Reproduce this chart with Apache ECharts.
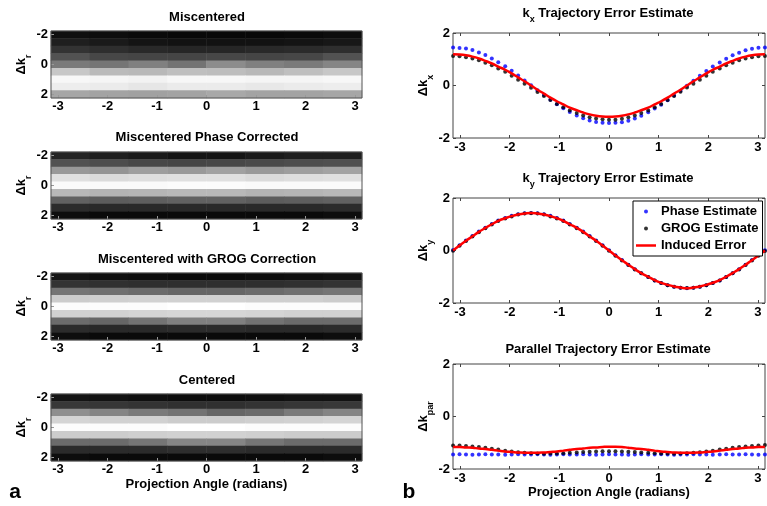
<!DOCTYPE html>
<html>
<head>
<meta charset="utf-8">
<script src="https://cdn.jsdelivr.net/npm/echarts@6/dist/echarts.min.js"></script>
<style>
html, body { margin: 0; padding: 0; background: #fff; }
#chart { width: 767px; height: 506px; }
</style>
</head>
<body>
<div id="chart"></div>
<script>
// ---- data ----
var xTicks = [-3, -2, -1, 0, 1, 2, 3];
var rowTicks = [-2, 0, 2];

// heatmap bins (8 angle bins) and rows (delta k_r, top = -2)
var angleBins = ['b1', 'b2', 'b3', 'b4', 'b5', 'b6', 'b7', 'b8'];
var krRows = ['-2', '-1.5', '-1', '-0.5', '0', '0.5', '1', '1.5', '2'];

// intensity 0 = black, 100 = white
var miscentered = [
  [6, 5, 4, 3, 3, 3, 4, 5],
  [12, 10, 8, 7, 7, 7, 8, 9],
  [20, 18, 16, 15, 15, 16, 17, 18],
  [32, 28, 27, 27, 28, 27, 28, 32],
  [48, 46, 50, 45, 55, 50, 48, 52],
  [78, 73, 72, 75, 74, 72, 75, 78],
  [97, 96, 95, 97, 97, 96, 96, 97],
  [93, 92, 90, 92, 92, 91, 92, 93],
  [65, 64, 63, 64, 66, 64, 64, 65]
];
var phaseCorrected = [
  [14, 12, 10, 8, 8, 10, 12, 12],
  [32, 30, 28, 27, 28, 29, 30, 31],
  [60, 58, 62, 60, 63, 60, 62, 64],
  [88, 86, 87, 88, 88, 86, 87, 88],
  [98, 98, 98, 99, 99, 98, 98, 98],
  [72, 70, 71, 72, 72, 70, 71, 72],
  [38, 36, 37, 38, 38, 36, 37, 38],
  [17, 16, 16, 16, 16, 16, 16, 17],
  [5, 4, 4, 4, 4, 4, 4, 5]
];
var grogCorrected = [
  [8, 6, 5, 4, 4, 5, 6, 7],
  [20, 19, 18, 18, 18, 18, 19, 20],
  [46, 44, 42, 40, 40, 42, 44, 46],
  [80, 81, 82, 82, 82, 81, 81, 80],
  [99, 99, 99, 100, 100, 99, 99, 99],
  [82, 82, 83, 84, 84, 83, 82, 82],
  [42, 40, 45, 50, 50, 45, 42, 42],
  [17, 16, 16, 17, 17, 16, 16, 17],
  [5, 4, 4, 4, 4, 4, 4, 5]
];
var centered = [
  [8, 7, 6, 5, 5, 6, 7, 7],
  [22, 21, 20, 19, 19, 20, 21, 22],
  [56, 52, 48, 45, 40, 42, 48, 52],
  [83, 82, 82, 80, 80, 81, 82, 83],
  [99, 99, 99, 100, 100, 99, 99, 99],
  [80, 80, 81, 82, 82, 81, 80, 80],
  [42, 42, 46, 52, 52, 46, 42, 42],
  [17, 17, 17, 18, 18, 17, 17, 17],
  [5, 4, 4, 4, 4, 4, 4, 5]
];

// projection angles (radians) for the trajectory error plots
var angles = [-3.14, -3.01, -2.88, -2.75, -2.62, -2.49, -2.36, -2.23, -2.09, -1.96, -1.83, -1.70, -1.57,
  -1.44, -1.31, -1.18, -1.05, -0.92, -0.79, -0.65, -0.52, -0.39, -0.26, -0.13, 0,
  0.13, 0.26, 0.39, 0.52, 0.65, 0.79, 0.92, 1.05, 1.18, 1.31, 1.44, 1.57,
  1.70, 1.83, 1.96, 2.09, 2.23, 2.36, 2.49, 2.62, 2.75, 2.88, 3.01, 3.14];

var kxPhase = [1.45, 1.43, 1.41, 1.35, 1.26, 1.16, 1.03, 0.89, 0.73, 0.56, 0.38, 0.19, 0.01, -0.18, -0.36, -0.54, -0.71, -0.87, -1.01, -1.14, -1.25, -1.33, -1.39, -1.42, -1.43,
  -1.42, -1.40, -1.34, -1.26, -1.15, -1.02, -0.88, -0.73, -0.56, -0.38, -0.20, -0.01, 0.18, 0.37, 0.55, 0.72, 0.88, 1.02, 1.15, 1.25, 1.34, 1.40, 1.44, 1.45];
var kxGrog = [1.12, 1.11, 1.08, 1.03, 0.96, 0.87, 0.77, 0.65, 0.52, 0.37, 0.22, 0.07, -0.09, -0.25, -0.40, -0.55, -0.70, -0.83, -0.95, -1.05, -1.14, -1.21, -1.26, -1.29, -1.30,
  -1.30, -1.27, -1.21, -1.14, -1.05, -0.95, -0.83, -0.70, -0.55, -0.40, -0.24, -0.08, 0.07, 0.22, 0.37, 0.52, 0.65, 0.77, 0.87, 0.96, 1.03, 1.08, 1.11, 1.12];
var kxInduced = [1.19, 1.18, 1.15, 1.10, 1.03, 0.94, 0.84, 0.72, 0.60, 0.46, 0.31, 0.16, 0, -0.16, -0.31, -0.46, -0.60, -0.72, -0.84, -0.94, -1.03, -1.10, -1.15, -1.18, -1.19,
  -1.18, -1.15, -1.10, -1.03, -0.94, -0.84, -0.72, -0.60, -0.46, -0.31, -0.16, 0, 0.16, 0.31, 0.46, 0.60, 0.72, 0.84, 0.94, 1.03, 1.10, 1.15, 1.18, 1.19];

var kyPhase = [0.02, 0.20, 0.38, 0.55, 0.72, 0.87, 1.01, 1.14, 1.24, 1.32, 1.38, 1.42, 1.43, 1.42, 1.38, 1.32, 1.24, 1.14, 1.01, 0.87, 0.72, 0.55, 0.38, 0.20, 0.01,
  -0.18, -0.36, -0.54, -0.71, -0.87, -1.01, -1.14, -1.24, -1.32, -1.38, -1.42, -1.44, -1.42, -1.38, -1.32, -1.24, -1.14, -1.01, -0.87, -0.71, -0.54, -0.36, -0.18, 0.01];
var kyGrog = [-0.01, 0.18, 0.36, 0.53, 0.70, 0.85, 0.99, 1.12, 1.22, 1.30, 1.37, 1.41, 1.42, 1.41, 1.37, 1.30, 1.22, 1.12, 0.99, 0.85, 0.70, 0.53, 0.36, 0.18, -0.01,
  -0.20, -0.38, -0.55, -0.72, -0.87, -1.01, -1.14, -1.24, -1.32, -1.38, -1.42, -1.43, -1.42, -1.38, -1.32, -1.24, -1.14, -1.01, -0.87, -0.72, -0.55, -0.38, -0.20, -0.02];
var kyInduced = [0, 0.19, 0.37, 0.54, 0.71, 0.86, 1.00, 1.13, 1.23, 1.31, 1.37, 1.41, 1.43, 1.41, 1.37, 1.31, 1.23, 1.13, 1.00, 0.86, 0.71, 0.54, 0.37, 0.19, 0,
  -0.19, -0.37, -0.54, -0.71, -0.86, -1.00, -1.13, -1.23, -1.31, -1.37, -1.41, -1.44, -1.41, -1.37, -1.31, -1.23, -1.13, -1.00, -0.86, -0.71, -0.54, -0.37, -0.19, 0];

var parPhase = [-1.45, -1.44, -1.45, -1.46, -1.45, -1.44, -1.45, -1.45, -1.46, -1.45,
  -1.44, -1.45, -1.45, -1.44, -1.45, -1.46, -1.45, -1.44, -1.45, -1.45,
  -1.44, -1.45, -1.46, -1.45, -1.44, -1.45, -1.45, -1.46, -1.45, -1.44,
  -1.45, -1.45, -1.44, -1.45, -1.46, -1.45, -1.45, -1.44, -1.45, -1.45,
  -1.46, -1.45, -1.44, -1.45, -1.45, -1.44, -1.45, -1.46, -1.45];
var parGrog = [-1.10, -1.10, -1.12, -1.14, -1.16, -1.19, -1.23, -1.26, -1.30, -1.33, -1.36, -1.38, -1.40, -1.41, -1.42, -1.41, -1.41, -1.40, -1.38, -1.37, -1.35, -1.34, -1.33, -1.32, -1.32,
  -1.32, -1.33, -1.34, -1.35, -1.37, -1.38, -1.40, -1.41, -1.41, -1.42, -1.41, -1.40, -1.38, -1.36, -1.33, -1.30, -1.26, -1.23, -1.19, -1.16, -1.14, -1.12, -1.10, -1.09];
var parInduced = [-1.16, -1.16, -1.18, -1.19, -1.22, -1.24, -1.27, -1.30, -1.33, -1.35, -1.37, -1.38, -1.38, -1.38, -1.37, -1.35, -1.33, -1.30, -1.27, -1.24, -1.22, -1.19, -1.18, -1.16, -1.15,
  -1.15, -1.16, -1.19, -1.22, -1.24, -1.27, -1.30, -1.33, -1.35, -1.37, -1.38, -1.38, -1.38, -1.37, -1.35, -1.33, -1.30, -1.27, -1.24, -1.22, -1.19, -1.18, -1.16, -1.16];

// ---- layout ----
var FONT = '"Liberation Sans", Arial, sans-serif';
var leftTops = [31, 152, 273, 394];
var rightTops = [33, 198, 364];
var PI = Math.PI;

function cells(m) {
  var out = [];
  m.forEach(function (row, r) {
    row.forEach(function (v, c) { out.push([c, r, v]); });
  });
  return out;
}
function pairs(ys) {
  return angles.map(function (a, i) { return [a, ys[i]]; });
}
function richName(main, sub) {
  return {
    text: '{m|' + main + '}{s|' + sub + '}',
    rich: {
      m: { fontFamily: FONT, fontWeight: 'bold', fontSize: 13, color: '#000', lineHeight: 22 },
      s: { fontFamily: FONT, fontWeight: 'bold', fontSize: 9, color: '#000', verticalAlign: 'bottom', lineHeight: 10 }
    }
  };
}
var labelStyle = { fontFamily: FONT, fontWeight: 'bold', fontSize: 13, color: '#000' };
var noLine = { show: false, onZero: false };

var grids = [], xAxes = [], yAxes = [], series = [];

var maps = [miscentered, phaseCorrected, grogCorrected, centered];
var krName = richName('Δk', 'r');
maps.forEach(function (m, i) {
  grids.push({ left: 51, top: leftTops[i], width: 311, height: 67, show: true, borderColor: '#555', borderWidth: 1, z: 5 });
  xAxes.push({ type: 'category', gridIndex: i, data: angleBins, show: false, position: 'top', axisLine: noLine });
  xAxes.push({
    type: 'value', gridIndex: i, min: -PI, max: PI, z: 3, position: 'bottom',
    axisLine: noLine, splitLine: { show: false },
    axisTick: { inside: true, length: 3, lineStyle: { color: '#999' }, customValues: xTicks },
    axisLabel: Object.assign({ margin: 2, customValues: xTicks }, labelStyle),
    name: i === 3 ? 'Projection Angle (radians)' : '', nameLocation: 'middle', nameGap: 17,
    nameTextStyle: labelStyle
  });
  yAxes.push({ type: 'category', gridIndex: i, data: krRows, inverse: true, show: false, position: 'right', axisLine: noLine });
  yAxes.push({
    type: 'value', gridIndex: i, min: -2.25, max: 2.25, inverse: true, z: 3, position: 'left',
    axisLine: noLine, splitLine: { show: false },
    axisTick: { inside: true, length: 3, lineStyle: { color: '#999' }, customValues: rowTicks },
    axisLabel: Object.assign({ margin: 3, customValues: rowTicks }, labelStyle),
    name: krName.text, nameLocation: 'middle', nameGap: 14,
    nameTextStyle: { rich: krName.rich }
  });
  series.push({
    type: 'heatmap', xAxisIndex: 2 * i, yAxisIndex: 2 * i, data: cells(m),
    emphasis: { disabled: true }
  });
});

var lines = [
  { phase: kxPhase, grog: kxGrog, induced: kxInduced, sub: 'x' },
  { phase: kyPhase, grog: kyGrog, induced: kyInduced, sub: 'y' },
  { phase: parPhase, grog: parGrog, induced: parInduced, sub: 'par' }
];
lines.forEach(function (p, j) {
  var g = 4 + j;
  var nm = richName('Δk', p.sub);
  grids.push({ left: 453, top: rightTops[j], width: 312, height: 105, show: true, borderColor: '#444', borderWidth: 1 });
  xAxes.push({
    type: 'value', gridIndex: g, min: -PI, max: PI, position: 'bottom',
    axisLine: noLine, splitLine: { show: false },
    axisTick: { inside: true, length: 3, lineStyle: { color: '#444' }, customValues: xTicks },
    axisLabel: Object.assign({ margin: 3, customValues: xTicks }, labelStyle),
    name: j === 2 ? 'Projection Angle (radians)' : '', nameLocation: 'middle', nameGap: 17,
    nameTextStyle: labelStyle
  });
  xAxes.push({
    type: 'value', gridIndex: g, min: -PI, max: PI, position: 'top',
    axisLine: noLine, splitLine: { show: false }, axisLabel: { show: false },
    axisTick: { inside: true, length: 3, lineStyle: { color: '#444' }, customValues: xTicks }
  });
  yAxes.push({
    type: 'value', gridIndex: g, min: -2, max: 2, interval: 2, position: 'left',
    axisLine: noLine, splitLine: { show: false },
    axisTick: { inside: true, length: 3, lineStyle: { color: '#444' } },
    axisLabel: Object.assign({ margin: 3 }, labelStyle),
    name: nm.text, nameLocation: 'middle', nameGap: 11,
    nameTextStyle: { rich: nm.rich }
  });
  yAxes.push({
    type: 'value', gridIndex: g, min: -2, max: 2, interval: 2, position: 'right',
    axisLine: noLine, splitLine: { show: false }, axisLabel: { show: false },
    axisTick: { inside: true, length: 3, lineStyle: { color: '#444' } }
  });
  var xi = 8 + 2 * j, yi = 8 + 2 * j;
  series.push({
    name: 'Phase Estimate', type: 'scatter', xAxisIndex: xi, yAxisIndex: yi,
    data: pairs(p.phase), symbolSize: 4, itemStyle: { color: '#0000ff' }
  });
  series.push({
    name: 'GROG Estimate', type: 'scatter', xAxisIndex: xi, yAxisIndex: yi,
    data: pairs(p.grog), symbolSize: 4, itemStyle: { color: '#000000' }
  });
  series.push({
    name: 'Induced Error', type: 'line', xAxisIndex: xi, yAxisIndex: yi,
    data: pairs(p.induced), symbol: 'none', smooth: true,
    lineStyle: { color: '#ff0000', width: 2.5 }, itemStyle: { color: '#ff0000' }
  });
});

function titleText(x, y, text, rich) {
  var style = { text: text, x: 0, y: 0, align: 'center', verticalAlign: 'middle', fill: '#000',
    fontFamily: FONT, fontWeight: 'bold', fontSize: 13 };
  if (rich) style.rich = rich;
  return { type: 'text', x: x, y: y, style: style, z: 10 };
}
var kxTitle = richName('k', 'x');
var kyTitle = richName('k', 'y');

var option = {
  animation: false,
  backgroundColor: '#fff',
  grid: grids,
  xAxis: xAxes,
  yAxis: yAxes,
  visualMap: {
    type: 'continuous', show: false, seriesIndex: [0, 1, 2, 3], min: 0, max: 100,
    inRange: { color: ['#000000', '#ffffff'] }
  },
  legend: {
    orient: 'vertical', left: 633, top: 201,
    data: [
      { name: 'Phase Estimate', icon: 'circle' },
      { name: 'GROG Estimate', icon: 'circle' },
      { name: 'Induced Error', icon: 'path://M0,0L40,0L40,5L0,5Z' }
    ],
    itemWidth: 20, itemHeight: 4, itemGap: 2, padding: [3, 4, 3, 3],
    backgroundColor: '#fff', borderColor: '#000', borderWidth: 1, borderRadius: 0,
    textStyle: { fontFamily: FONT, fontWeight: 'bold', fontSize: 13, color: '#000', lineHeight: 15 },
    selectedMode: false
  },
  graphic: [
    titleText(207, 17, 'Miscentered'),
    titleText(207, 137, 'Miscentered Phase Corrected'),
    titleText(207, 259, 'Miscentered with GROG Correction'),
    titleText(207, 380, 'Centered'),
    titleText(608, 13, '{m|k}{s|x}{m| Trajectory Error Estimate}', kxTitle.rich),
    titleText(608, 178, '{m|k}{s|y}{m| Trajectory Error Estimate}', kyTitle.rich),
    titleText(608, 349, 'Parallel Trajectory Error Estimate'),
    { type: 'text', x: 15, y: 492, z: 10, style: { text: 'a', align: 'center', verticalAlign: 'middle', fill: '#000', fontFamily: FONT, fontWeight: 'bold', fontSize: 21 } },
    { type: 'text', x: 409, y: 492, z: 10, style: { text: 'b', align: 'center', verticalAlign: 'middle', fill: '#000', fontFamily: FONT, fontWeight: 'bold', fontSize: 21 } }
  ],
  series: series
};

var chart = echarts.init(document.getElementById('chart'));
chart.setOption(option);
</script>
</body>
</html>
